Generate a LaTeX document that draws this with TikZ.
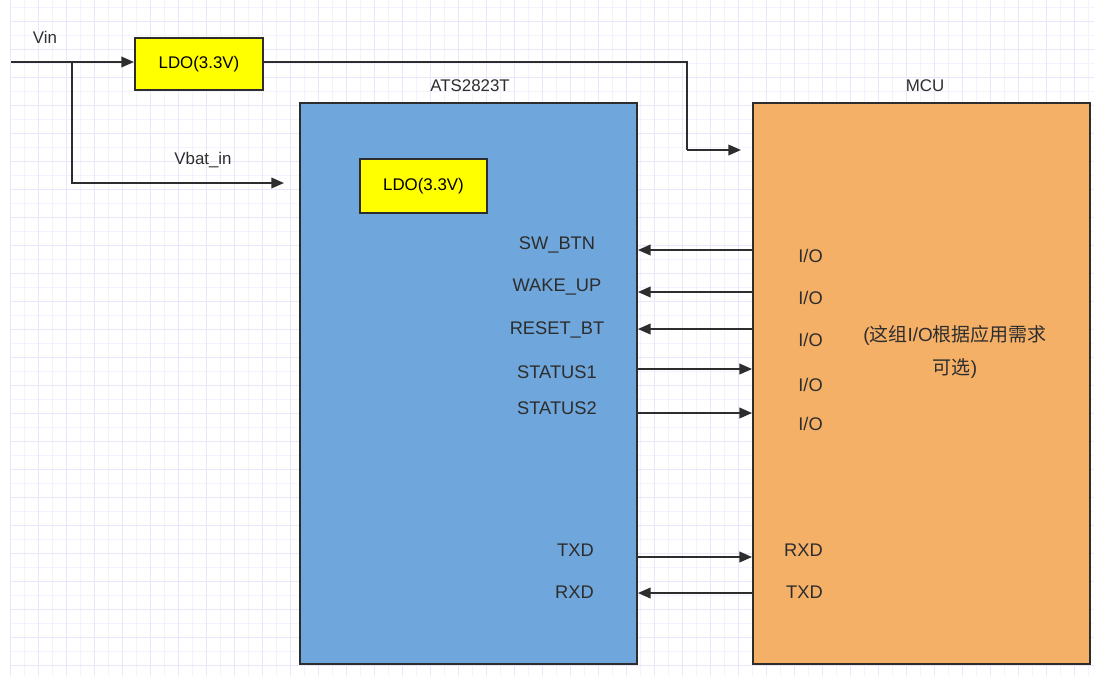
\documentclass[tikz,border=0pt]{standalone}
\usepackage{fontspec}
\setmainfont{Liberation Sans}
\newfontfamily\cjkfont{Noto Sans CJK SC}
\newcommand{\zh}[1]{{\cjkfont #1}}
\usepackage{tikz}
\usetikzlibrary{arrows.meta, positioning, calc}
\definecolor{mydark}{RGB}{45,45,45}
\definecolor{myyellow}{RGB}{255,255,0}
\definecolor{myblue}{RGB}{111,166,219}
\definecolor{myorange}{RGB}{245,176,104}
\definecolor{gridlight}{RGB}{243,243,253}
\definecolor{gridmid}{RGB}{232,232,251}
\tikzset{
  ldobox/.style={rectangle, draw=mydark, fill=myyellow, line width=1.4pt,
    minimum width=3.2cm, minimum height=1.3cm, font=\fontsize{12}{14}\selectfont},
  chipbox/.style={rectangle, draw=mydark, line width=1.4pt,
    minimum width=8.42cm, minimum height=14.02cm},
  title/.style={font=\fontsize{12}{14}\selectfont, text=mydark},
  pinlabel/.style={font=\fontsize{13}{15}\selectfont, text=mydark, inner sep=0pt},
  sig/.style={-{Triangle[length=9pt,width=7.5pt]}, line width=1.4pt, color=mydark},
  wire/.style={line width=1.4pt, color=mydark},
  gridminor/.style={gridlight, line width=0.5pt},
  gridmajor/.style={gridmid, line width=0.7pt}
}

\begin{document}
\begin{tikzpicture}[x=0.025cm, y=-0.025cm]
  \useasboundingbox (0,0) rectangle (1097,679);
  % background grid
  \foreach \gx in {10,24,...,1094} \draw[gridminor] (\gx,0) -- (\gx,676);
  \foreach \gy in {7,21,...,676} \draw[gridminor] (10,\gy) -- (1094,\gy);
  \foreach \gx in {10,38,...,1094} \draw[gridmajor] (\gx,0) -- (\gx,676);
  \foreach \gy in {21,49,...,676} \draw[gridmajor] (10,\gy) -- (1094,\gy);

  % chips
  \node[chipbox, fill=myblue] (ats) at (468.5,383.5) {};
  \node[chipbox, fill=myorange] (mcu) at (921.5,383.5) {};
  \node[title] (atsname) at (470,86) {ATS2823T};
  \node[title] (mcuname) at (925,86) {MCU};

  % LDOs
  \node[ldobox] (ldo) at (199,64) {LDO(3.3V)};
  \node[ldobox, minimum width=3.175cm, minimum height=1.35cm] (ldoin) at (423.5,186) {LDO(3.3V)};

  % power input
  \coordinate (vinstart) at (11,62);
  \coordinate (split) at (72,62);
  \coordinate (vbatend) at (284,183);
  \coordinate (bend) at (687,150);
  \coordinate (mcupwr) at (741,150);
  \node[title] (vin) at (45,37) {Vin};
  \node[title] (vbat) at (203,160) {Vbat\_in};
  \draw[sig] (vinstart) -- (ldo.west |- vinstart);
  \draw[sig] (split) |- (vbatend);
  \draw[wire] (ldo.east |- vinstart) -| (bend);
  \draw[sig] (bend) -- (mcupwr);

  % ATS2823T pins
  \node[pinlabel] (swbtn) at (557,245) {SW\_BTN};
  \node[pinlabel] (wakeup) at (557,287) {WAKE\_UP};
  \node[pinlabel] (resetbt) at (557,330) {RESET\_BT};
  \node[pinlabel] (status1) at (557,372) {STATUS1};
  \node[pinlabel] (status2) at (557,408) {STATUS2};
  \node[pinlabel, anchor=east] (atstxd) at (594,550) {TXD};
  \node[pinlabel, anchor=east] (atsrxd) at (594,592) {RXD};

  % MCU pins
  \node[pinlabel, anchor=east] (io1) at (823,256) {I/O};
  \node[pinlabel, anchor=east] (io2) at (823,298) {I/O};
  \node[pinlabel, anchor=east] (io3) at (823,340) {I/O};
  \node[pinlabel, anchor=east] (io4) at (823,385) {I/O};
  \node[pinlabel, anchor=east] (io5) at (823,424) {I/O};
  \node[pinlabel, anchor=east] (mcurxd) at (823,550) {RXD};
  \node[pinlabel, anchor=east] (mcutxd) at (823,592) {TXD};
  \node[pinlabel, align=center, font=\fontsize{13.5}{23}\selectfont] (optnote) at (955,352)
    {(\zh{这组}I/O\zh{根据应用需求}\\\zh{可选})};

  % signal lines
  \draw[sig] (mcu.west |- 0,250) -- (ats.east |- 0,250);
  \draw[sig] (mcu.west |- 0,292) -- (ats.east |- 0,292);
  \draw[sig] (mcu.west |- 0,329) -- (ats.east |- 0,329);
  \draw[sig] (ats.east |- 0,369) -- (mcu.west |- 0,369);
  \draw[sig] (ats.east |- 0,413) -- (mcu.west |- 0,413);
  \draw[sig] (ats.east |- 0,557) -- (mcu.west |- 0,557);
  \draw[sig] (mcu.west |- 0,593) -- (ats.east |- 0,593);
\end{tikzpicture}
\end{document}
